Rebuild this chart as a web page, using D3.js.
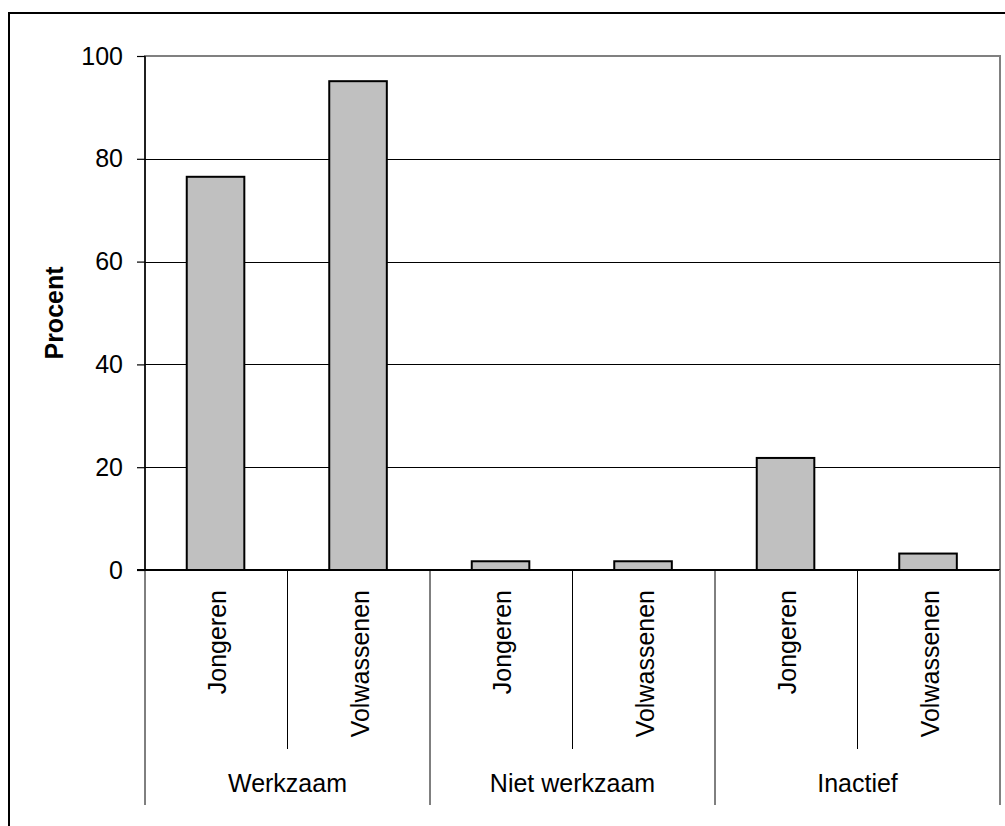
<!DOCTYPE html>
<html>
<head>
<meta charset="utf-8">
<script src="https://cdn.jsdelivr.net/npm/d3@7"></script>
<style>
  body { margin: 0; background: #fff; }
  text { font-family: "Liberation Sans", Arial, sans-serif; fill: #000; }
</style>
</head>
<body>
<div class="chart"></div>
<script>
// data
var groups = ["Werkzaam", "Niet werkzaam", "Inactief"];
var subgroups = ["Jongeren", "Volwassenen"];
var values = [76.5, 95.1, 1.7, 1.7, 21.8, 3.2];
var yTicks = [0, 20, 40, 60, 80, 100];

// build rows: one per bar
var rows = [];
groups.forEach(function(g, gi) {
  subgroups.forEach(function(s, si) {
    rows.push({ group: g, sub: s, key: g + "|" + s, value: values[gi * subgroups.length + si] });
  });
});

var svgWidth = 1005;
var svgHeight = 826;
var fontSize = "25px";

var plot = { left: 145, right: 1000, top: 56, bottom: 570 };

var svg = d3.select(".chart")
  .append("svg")
  .attr("width", svgWidth)
  .attr("height", svgHeight);

// outer chart frame (runs off the canvas on right and bottom)
svg.append("rect")
  .attr("x", 9)
  .attr("y", 13)
  .attr("width", 1100)
  .attr("height", 900)
  .attr("fill", "none")
  .attr("stroke", "#000")
  .attr("stroke-width", 2);

var xScale = d3.scaleBand()
  .domain(rows.map(d => d.key))
  .range([plot.left, plot.right])
  .padding(0);

var groupScale = d3.scaleBand()
  .domain(groups)
  .range([plot.left, plot.right])
  .padding(0);

var yScale = d3.scaleLinear()
  .domain([0, 100])
  .range([plot.bottom, plot.top]);

// plot area border (grey)
svg.append("rect")
  .attr("x", plot.left)
  .attr("y", plot.top)
  .attr("width", plot.right - plot.left)
  .attr("height", plot.bottom - plot.top)
  .attr("fill", "none")
  .attr("stroke", "#808080")
  .attr("stroke-width", 2);

// gridlines
svg.append("g")
  .selectAll("line")
  .data(yTicks.filter(t => t > 0 && t < 100))
  .enter()
  .append("line")
  .attr("x1", plot.left)
  .attr("x2", plot.right)
  .attr("y1", d => Math.round(yScale(d)) + 0.5)
  .attr("y2", d => Math.round(yScale(d)) + 0.5)
  .attr("stroke", "#000")
  .attr("stroke-width", 1);

// bars
var barW = xScale.bandwidth() * 0.404;
svg.append("g")
  .selectAll("rect")
  .data(rows)
  .enter()
  .append("rect")
  .attr("x", d => xScale(d.key) + xScale.bandwidth() * 0.293)
  .attr("y", d => yScale(d.value))
  .attr("width", barW)
  .attr("height", d => yScale(0) - yScale(d.value))
  .attr("fill", "#c0c0c0")
  .attr("stroke", "#000")
  .attr("stroke-width", 2);

// y axis
var leftAxis = d3.axisLeft(yScale)
  .tickValues(yTicks)
  .tickSize(8)
  .tickPadding(14);

var yAxis = svg.append("g")
  .attr("transform", `translate(${plot.left}, 0)`)
  .call(leftAxis);
yAxis.select(".domain").remove();
yAxis.selectAll("line").attr("stroke", "#000").attr("stroke-width", 1.2);
yAxis.selectAll("text")
  .style("font-family", "'Liberation Sans', Arial, sans-serif")
  .style("font-size", fontSize);

svg.append("line")
  .attr("x1", plot.left)
  .attr("x2", plot.left)
  .attr("y1", plot.top)
  .attr("y2", plot.bottom)
  .attr("stroke", "#000")
  .attr("stroke-width", 1.5);

// x axis line
svg.append("line")
  .attr("x1", plot.left - 8)
  .attr("x2", plot.right)
  .attr("y1", plot.bottom)
  .attr("y2", plot.bottom)
  .attr("stroke", "#000")
  .attr("stroke-width", 2);

// category divider lines
var dividers = [];
rows.forEach(function(d, i) {
  var isGroupEdge = (i % subgroups.length === 0);
  dividers.push({ x: xScale(d.key), long: isGroupEdge });
});
dividers.push({ x: plot.right, long: true });

svg.append("g")
  .selectAll("line")
  .data(dividers)
  .enter()
  .append("line")
  .attr("x1", d => d.x)
  .attr("x2", d => d.x)
  .attr("y1", plot.bottom)
  .attr("y2", d => d.long ? 805 : 749)
  .attr("stroke", d => d.x === plot.right ? "#808080" : "#000")
  .attr("stroke-width", d => d.x === plot.right ? 2 : 1);

// subgroup labels (rotated)
svg.append("g")
  .selectAll("text")
  .data(rows)
  .enter()
  .append("text")
  .attr("transform", d => `translate(${xScale(d.key) + xScale.bandwidth() / 2 + 1}, 590) rotate(-90)`)
  .attr("text-anchor", "end")
  .attr("dy", "0.35em")
  .style("font-size", fontSize)
  .text(d => d.sub);

// group labels
svg.append("g")
  .selectAll("text")
  .data(groups)
  .enter()
  .append("text")
  .attr("x", d => groupScale(d) + groupScale.bandwidth() / 2)
  .attr("y", 792)
  .attr("text-anchor", "middle")
  .style("font-size", fontSize)
  .text(d => d);

// y axis title
svg.append("text")
  .attr("transform", `translate(63, ${(plot.top + plot.bottom) / 2}) rotate(-90)`)
  .attr("text-anchor", "middle")
  .style("font-size", fontSize)
  .style("font-weight", "bold")
  .text("Procent");
</script>
</body>
</html>
